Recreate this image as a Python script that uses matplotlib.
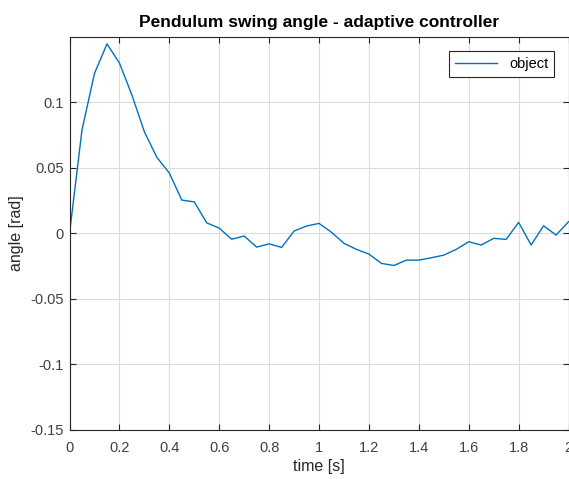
import numpy as np
import matplotlib.pyplot as plt

plt.rcParams['font.family'] = ['Liberation Sans', 'DejaVu Sans']

t = np.arange(41) * 0.05
angle = [0.0, 0.079, 0.122, 0.1445, 0.130, 0.1055, 0.0775, 0.058, 0.046, 0.0254,
         0.024, 0.008, 0.004, -0.0045, -0.002, -0.0105, -0.008, -0.0107, 0.0018, 0.0056,
         0.0076, 0.0008, -0.0076, -0.0122, -0.0158, -0.0229, -0.0245, -0.0204, -0.0204, -0.0186,
         -0.0166, -0.0122, -0.0064, -0.0089, -0.0038, -0.0046, 0.0084, -0.0089, 0.0058, -0.0013,
         0.0089]
xticks = [0, 0.2, 0.4, 0.6, 0.8, 1, 1.2, 1.4, 1.6, 1.8, 2]
xlabels = ['0', '0.2', '0.4', '0.6', '0.8', '1', '1.2', '1.4', '1.6', '1.8', '2']
yticks = [-0.15, -0.1, -0.05, 0, 0.05, 0.1]
ylabels = ['-0.15', '-0.1', '-0.05', '0', '0.05', '0.1']

fig = plt.figure(figsize=(5.69, 4.79), dpi=100)
ax = fig.add_axes([0.1222, 0.1023, 0.877, 0.821])
ax.plot(t, angle, color='#0072BD', lw=1.0, label='object')

ax.set_xlim(0, 2)
ax.set_ylim(-0.15, 0.15)
ax.set_xticks(xticks, xlabels)
ax.set_yticks(yticks, ylabels)
ax.tick_params(direction='in', top=True, right=True, length=4, width=0.8,
               labelsize=10.5, colors='#262626', labelcolor='#404040')
ax.tick_params(axis='x', pad=8)
ax.tick_params(axis='y', pad=4)
ax.grid(True, color='#dcdcdc', lw=0.8)
ax.set_axisbelow(True)
for s in ax.spines.values():
    s.set_color('#262626')
    s.set_linewidth(0.8)

ax.set_title('Pendulum swing angle - adaptive controller', fontsize=12.5,
             fontweight='bold', pad=7)
ax.set_xlabel('time [s]', fontsize=11.5, labelpad=3, color='#262626')
ax.set_ylabel('angle [rad]', fontsize=11.5, labelpad=5, color='#262626')

leg = ax.legend(loc='upper right', fontsize=10.5, handlelength=2.9,
                fancybox=False, edgecolor='#262626', framealpha=1,
                borderaxespad=1.0)
leg.get_frame().set_linewidth(0.8)

fig.savefig('out.png', dpi=100)
